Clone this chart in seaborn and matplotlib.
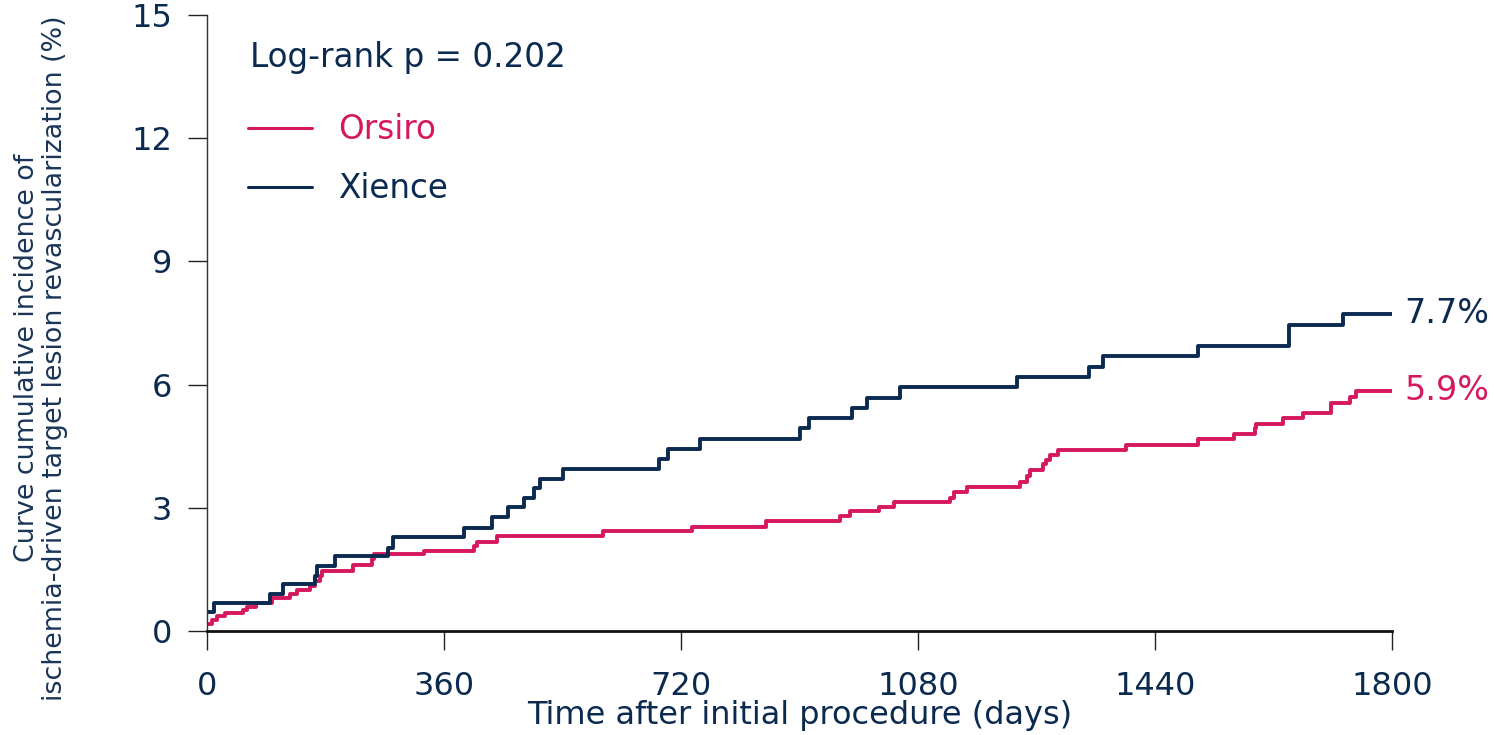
import numpy as np
import pandas as pd
import matplotlib
matplotlib.use("Agg")
import matplotlib.pyplot as plt
import seaborn as sns

# ---- data ----
xience_days = [0, 10, 96, 116, 164, 167, 195, 275, 283, 390,
               433, 457, 482, 496, 506, 541, 687, 701, 749, 900,
               915, 979, 1003, 1053, 1230, 1339, 1361, 1506, 1644, 1725,
               1800]
xience_vals = [0.47, 0.67, 0.90, 1.14, 1.34, 1.58, 1.83, 2.01, 2.30, 2.52,
               2.78, 3.01, 3.24, 3.47, 3.71, 3.95, 4.20, 4.44, 4.67, 4.94,
               5.18, 5.42, 5.67, 5.93, 6.18, 6.44, 6.70, 6.95, 7.45, 7.72,
               7.72]
orsiro_days = [0, 7, 15, 27, 55, 60, 75, 98, 126, 136,
               156, 164, 172, 174, 222, 250, 253, 329, 405, 410,
               440, 602, 736, 849, 962, 976, 1020, 1044, 1129, 1134,
               1154, 1235, 1246, 1250, 1270, 1274, 1280, 1293, 1396, 1506,
               1560, 1592, 1594, 1634, 1665, 1707, 1736, 1745, 1800]
orsiro_vals = [0.17, 0.28, 0.37, 0.45, 0.51, 0.59, 0.69, 0.80, 0.89, 1.00,
               1.10, 1.22, 1.34, 1.47, 1.61, 1.75, 1.87, 1.96, 2.07, 2.17,
               2.31, 2.43, 2.54, 2.68, 2.80, 2.91, 3.03, 3.13, 3.23, 3.39,
               3.50, 3.63, 3.78, 3.92, 4.06, 4.16, 4.29, 4.41, 4.53, 4.67,
               4.79, 4.94, 5.04, 5.18, 5.32, 5.54, 5.70, 5.85, 5.85]
groups = ["Orsiro", "Xience"]
end_labels = ["5.9%", "7.7%"]
x_ticks = [0, 360, 720, 1080, 1440, 1800]
y_ticks = [0, 3, 6, 9, 12, 15]
p_text = "Log-rank p = 0.202"

NAVY = "#0b2a50"
PINK = "#d6185f"
palette = {"Orsiro": PINK, "Xience": NAVY}

df = pd.concat([
    pd.DataFrame({"day": orsiro_days, "pct": orsiro_vals, "group": "Orsiro"}),
    pd.DataFrame({"day": xience_days, "pct": xience_vals, "group": "Xience"}),
], ignore_index=True)

sns.set_style("ticks")
plt.rcParams["font.family"] = ["DejaVu Sans"]

W, H = 1494, 735
fig = plt.figure(figsize=(W / 100, H / 100), dpi=100)
ax = fig.add_axes([207 / W, 1 - 631 / H, (1392 - 207) / W, (631 - 15) / H])

sns.lineplot(data=df, x="day", y="pct", hue="group", hue_order=groups,
             palette=palette, estimator=None, drawstyle="steps-post",
             linewidth=2.8, ax=ax, legend=True)

ax.set_xlim(0, 1800)
ax.set_ylim(0, 15)
ax.set_xticks(x_ticks)
ax.set_yticks(y_ticks)
ax.set_xticklabels([str(t) for t in x_ticks])
ax.set_yticklabels([str(t) for t in y_ticks])
ax.tick_params(axis="both", length=14, width=1.0, color="#222222",
               labelsize=23, labelcolor=NAVY, direction="out")
ax.tick_params(axis="x", pad=15)
ax.tick_params(axis="y", pad=11)
for s in ["top", "right"]:
    ax.spines[s].set_visible(False)
ax.spines["left"].set_color("#333333")
ax.spines["left"].set_linewidth(1.0)
ax.spines["bottom"].set_color("#111111")
ax.spines["bottom"].set_linewidth(2.0)

ax.set_xlabel("Time after initial procedure (days)", fontsize=23, color=NAVY,
              labelpad=0)
ax.xaxis.set_label_coords(0.5, -0.112)
ax.set_ylabel("")
fig.text(41 / W, 1 - 358 / H,
         "Curve cumulative incidence of\nischemia-driven target lesion revascularization (%)",
         rotation=90, ha="center", va="center", multialignment="center",
         fontsize=19.4, color="#1a3558", linespacing=1.08)

# legend
handles, labels = ax.get_legend_handles_labels()
leg = ax.legend(handles, labels, loc="upper left",
                bbox_to_anchor=(248 / W, 1 - 113 / H),
                bbox_transform=fig.transFigure, frameon=False,
                fontsize=23.5, labelcolor="linecolor", handlelength=1.95,
                handletextpad=0.82, labelspacing=0.8, borderpad=0,
                borderaxespad=0)
for ln in leg.get_lines():
    ln.set_linewidth(2.2)

fig.text(250 / W, 1 - 58 / H, p_text, ha="left", va="center",
         fontsize=23.5, color=NAVY)

# end labels
for g, lab, vals in zip(groups, end_labels, [orsiro_vals, xience_vals]):
    ax.annotate(lab, xy=(1800, vals[-1]), xytext=(9, 0),
                textcoords="offset points", ha="left", va="center",
                fontsize=24, color=palette[g], annotation_clip=False)

fig.savefig("out.png", dpi=100)
